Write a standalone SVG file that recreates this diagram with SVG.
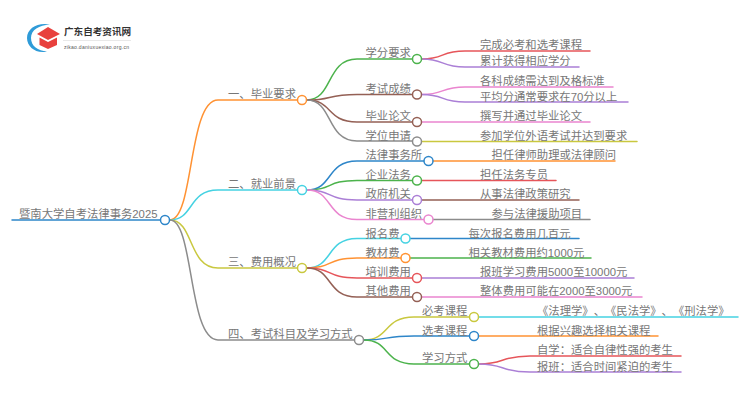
<svg xmlns="http://www.w3.org/2000/svg" width="750" height="410" viewBox="0 0 750 410">
<style>
text{font-family:"Liberation Sans","Noto Sans CJK SC",sans-serif;font-size:11.33px;fill:#777;text-spacing-trim:space-all}
.c path{fill:none;stroke-width:1.5;stroke-linecap:round}
circle{fill:#fff;stroke-width:1.5}
.b{stroke:#2e86c9}.o{stroke:#ff9233}.y{stroke:#c9c83f}.cy{stroke:#45d2e2}.gy{stroke:#8c8c8c}.g{stroke:#4cb34c}.br{stroke:#946055}.r{stroke:#e6555a}.p{stroke:#ab7fd6}.pk{stroke:#ea85cf}
</style>
<rect width="750" height="410" fill="#fff"/>
<g id="logo">
<path d="M50 24.500C38 22 27 28 27 38C27 47 36 54 47 51.500C38 51 31 46 31 38C31 30 39 25 50 24.500Z" fill="#2f9bd8"/>
<path d="M37 34L48 27L60 34L48 40Z" fill="#e8403d"/>
<path d="M39.500 37.500L48 42L57 37.500V45L48 49L39.500 45Z" fill="#e8403d"/>
<text x="64" y="35" style="font-size:9.6px;fill:#333;font-weight:700">广东自考资讯网</text>
<path d="M63 40.500H131" stroke="#e8e8e8" stroke-width="1"/>
<text x="64" y="48.500" style="font-size:5px;fill:#555;letter-spacing:.3px">zikao.daniuxuexiao.org.cn</text>
</g>
<g id="connectors" class="c">
<path class="b" d="M12 220H160"/>
<path class="o" d="M170 220C194 220 188 100 218 100H298"/>
<path class="cy" d="M170 220C194 220 188 190 218 190H298"/>
<path class="y" d="M170 220C194 220 188 268 218 268H298"/>
<path class="gy" d="M170 220C194 220 188 340 218 340H354"/>
<path class="g" d="M307 100C333 100 326 59 357 59H412"/>
<path class="br" d="M307 100C333 100 326 94.500 357 94.500H412"/>
<path class="br" d="M307 100C333 100 326 122 357 122H412"/>
<path class="gy" d="M307 100C333 100 326 141 357 141H412"/>
<path class="r" d="M422 59C445 59 440 51 465 51H590"/>
<path class="p" d="M422 59C445 59 440 67 465 67H579"/>
<path class="pk" d="M422 94.500C445 94.500 440 87 465 87H613"/>
<path class="p" d="M422 94.500C445 94.500 440 102 465 102H628"/>
<path class="pk" d="M422 122H590"/>
<path class="y" d="M422 141.500H637"/>
<path class="b" d="M307 190C333 190 326 161 357 161H424"/>
<path class="g" d="M307 190C333 190 326 180.500 357 180.500H412"/>
<path class="p" d="M307 190C333 190 326 200 357 200H412"/>
<path class="pk" d="M307 190C333 190 326 219.500 357 219.500H424"/>
<path class="o" d="M433 161H615"/>
<path class="r" d="M422 180.500H556"/>
<path class="br" d="M422 200H579"/>
<path class="gy" d="M433 219.500H590"/>
<path class="cy" d="M307 268C333 268 326 238.500 357 238.500H401"/>
<path class="o" d="M307 268C333 268 326 258 357 258H401"/>
<path class="r" d="M307 268C333 268 326 278 357 278H412"/>
<path class="br" d="M307 268C333 268 326 297 357 297H412"/>
<path class="b" d="M410 238.500H579"/>
<path class="g" d="M410 258H591"/>
<path class="p" d="M422 278H634"/>
<path class="pk" d="M422 297H642"/>
<path class="y" d="M364 340C390 340 383 317 414 317H469"/>
<path class="b" d="M364 340C390 340 383 336 414 336H469"/>
<path class="g" d="M364 340C390 340 383 364 414 364H469"/>
<path class="cy" d="M479 317H738"/>
<path class="o" d="M479 336H658"/>
<path class="r" d="M479 364C505 364 500 356 530 356H681"/>
<path class="p" d="M479 364C505 364 500 372 530 372H681"/>
</g>
<g id="root"><circle class="b" cx="165" cy="220" r="4.500"/><text x="19" y="218">暨南大学自考法律事务2025</text></g>
<g id="n1"><circle class="o" cx="302" cy="100" r="4.500"/><text x="228" y="98">一、毕业要求</text></g>
<g id="n2"><circle class="cy" cx="302" cy="190" r="4.500"/><text x="228" y="188">二、就业前景</text></g>
<g id="n3"><circle class="y" cx="302" cy="268" r="4.500"/><text x="228" y="266">三、费用概况</text></g>
<g id="n4"><circle class="gy" cx="359" cy="340" r="4.500"/><text x="228" y="338">四、考试科目及学习方式</text></g>
<g id="n11"><circle class="g" cx="417" cy="59" r="4.500"/><text x="365.500" y="57">学分要求</text></g>
<g id="n12"><circle class="br" cx="417" cy="94.500" r="4.500"/><text x="365.500" y="92.500">考试成绩</text></g>
<g id="n13"><circle class="br" cx="417" cy="122" r="4.500"/><text x="365.500" y="120">毕业论文</text></g>
<g id="n14"><circle class="gy" cx="417" cy="141.500" r="4.500"/><text x="365.500" y="139.500">学位申请</text></g>
<g id="n21"><circle class="b" cx="428.500" cy="161" r="4.500"/><text x="365.500" y="159">法律事务所</text></g>
<g id="n22"><circle class="g" cx="417" cy="180.500" r="4.500"/><text x="365.500" y="178.500">企业法务</text></g>
<g id="n23"><circle class="p" cx="417" cy="200" r="4.500"/><text x="365.500" y="198">政府机关</text></g>
<g id="n24"><circle class="pk" cx="428.500" cy="219.500" r="4.500"/><text x="365.500" y="217.500">非营利组织</text></g>
<g id="n31"><circle class="cy" cx="405.500" cy="238.500" r="4.500"/><text x="365.500" y="237.500">报名费</text></g>
<g id="n32"><circle class="o" cx="405.500" cy="258" r="4.500"/><text x="365.500" y="257">教材费</text></g>
<g id="n33"><circle class="r" cx="417" cy="278" r="4.500"/><text x="365.500" y="276">培训费用</text></g>
<g id="n34"><circle class="br" cx="417" cy="297" r="4.500"/><text x="365.500" y="295">其他费用</text></g>
<g id="n41"><circle class="y" cx="474" cy="317" r="4.500"/><text x="422" y="315">必考课程</text></g>
<g id="n42"><circle class="b" cx="474" cy="336" r="4.500"/><text x="422" y="334.500">选考课程</text></g>
<g id="n43"><circle class="g" cx="474" cy="364" r="4.500"/><text x="422" y="362">学习方式</text></g>
<g id="l"><text x="480" y="49">完成必考和选考课程</text><text x="480" y="65">累计获得相应学分</text><text x="480" y="84.500">各科成绩需达到及格标准</text><text x="480" y="101">平均分通常要求在70分以上</text><text x="480" y="120">撰写并通过毕业论文</text><text x="480" y="139.500">参加学位外语考试并达到要求</text><text x="491.500" y="159">担任律师助理或法律顾问</text><text x="480" y="178.500">担任法务专员</text><text x="480" y="198">从事法律政策研究</text><text x="491.500" y="217.500">参与法律援助项目</text><text x="468.500" y="237.500">每次报名费用几百元</text><text x="468.500" y="257">相关教材费用约1000元</text><text x="480" y="276">报班学习费用5000至10000元</text><text x="480" y="295">整体费用可能在2000至3000元</text><text x="537" y="315">《法理学》、《民法学》、《刑法学》</text><text x="537" y="334.500">根据兴趣选择相关课程</text><text x="537" y="354">自学：适合自律性强的考生</text><text x="537" y="371">报班：适合时间紧迫的考生</text></g>
</svg>
